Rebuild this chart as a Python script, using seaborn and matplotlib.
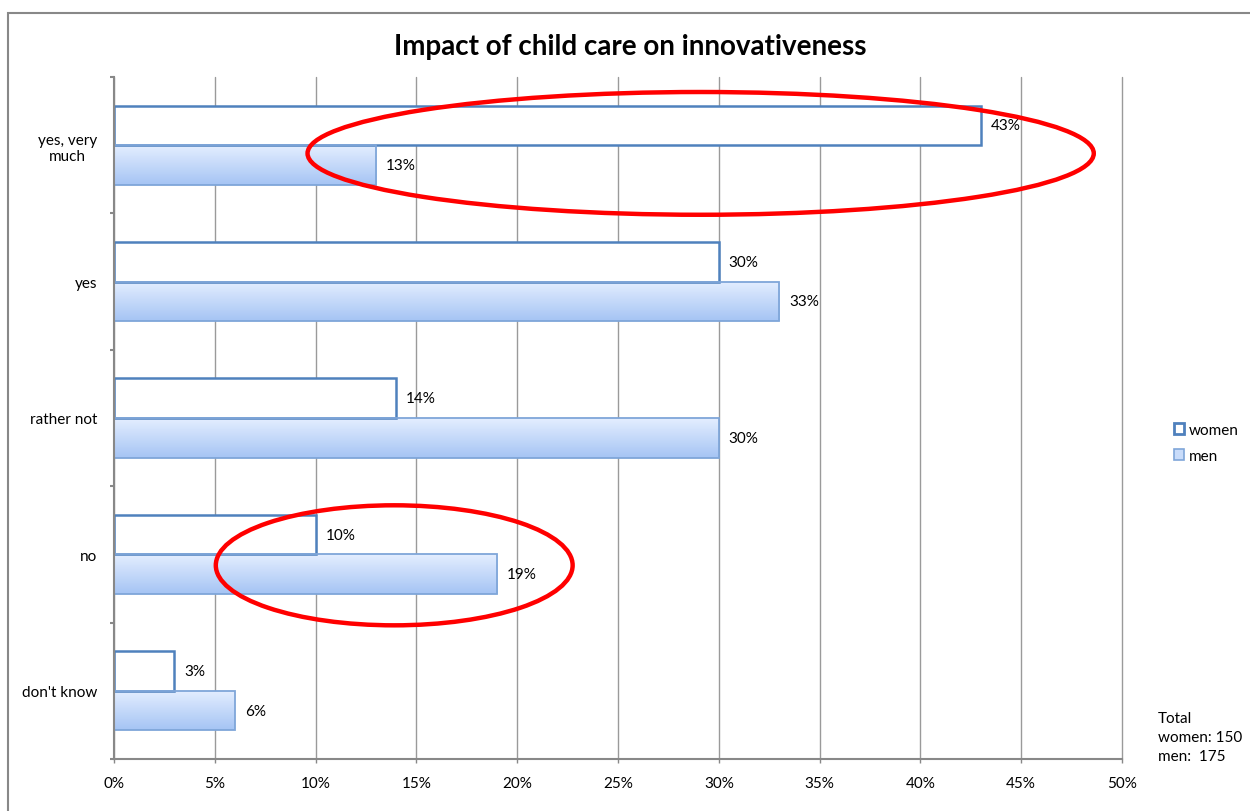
import numpy as np
import pandas as pd
import seaborn as sns
import matplotlib.pyplot as plt
from matplotlib.patches import Ellipse, Patch, Rectangle
from matplotlib.colors import LinearSegmentedColormap

# survey answers and shares (%)
answers = ['yes, very\nmuch', 'yes', 'rather not', 'no', "don't know"]
women = [43, 30, 14, 10, 3]
men = [13, 33, 30, 19, 6]
n_women = 150
n_men = 175

df = pd.DataFrame({'answer': answers * 2,
                   'share': women + men,
                   'sex': ['women'] * len(answers) + ['men'] * len(answers)})

sns.set_style('white')
plt.rcParams['font.family'] = ['Lato', 'DejaVu Sans']
plt.rcParams['text.color'] = 'black'
plt.rcParams['xtick.labelcolor'] = 'black'
plt.rcParams['ytick.labelcolor'] = 'black'

fig = plt.figure(figsize=(12.5, 8.12), dpi=100)
ax = fig.add_axes([114 / 1250, 1 - 760 / 812, 1008 / 1250, 682 / 812])

sns.barplot(data=df, x='share', y='answer', hue='sex', orient='h',
            order=answers, hue_order=['women', 'men'],
            palette={'women': 'white', 'men': '#c9dcfa'}, saturation=1,
            width=0.58, legend=False, ax=ax)

blue = '#4f81bd'
light_edge = '#7fa6d9'
women_bars, men_bars = ax.containers[0], ax.containers[1]
for b in women_bars:
    b.set_edgecolor(blue)
    b.set_linewidth(1.8)
    b.set_zorder(2)

# gradient fill for the men bars
grad_cmap = LinearSegmentedColormap.from_list('g', ['#e4eeff', '#a5c4f4'])
grad = np.linspace(0, 1, 256).reshape(-1, 1)
for b in men_bars:
    x0, y0 = b.get_xy()
    w, h = b.get_width(), b.get_height()
    b.set_facecolor('none')
    b.set_edgecolor(light_edge)
    b.set_linewidth(1.3)
    b.set_zorder(2)
    im = ax.imshow(grad, cmap=grad_cmap, aspect='auto', origin='upper',
                   extent=(x0, x0 + w, y0 + h, y0), zorder=1.5)
    im.set_clip_path(b)

for c in (women_bars, men_bars):
    ax.bar_label(c, fmt='%g%%', padding=7, fontsize=11, color='black')

ax.set_xlim(0, 50)
ax.set_ylim(len(answers) - 0.5, -0.5)
ax.set_xticks(range(0, 51, 5))
ax.set_xticklabels([f'{v}%' for v in range(0, 51, 5)], fontsize=11)
ax.set_yticks(range(len(answers)))
ax.set_yticklabels(answers, fontsize=11)
for lab in ax.get_yticklabels():
    lab.set_multialignment('center')
ax.set_yticks(np.arange(-0.5, len(answers), 1), minor=True)
ax.set_xlabel('')
ax.set_ylabel('')

ax.set_axisbelow(True)
ax.grid(axis='x', color='#9a9a9a', lw=1)
ax.grid(axis='y', visible=False)
for gl in ax.get_xgridlines():
    gl.set_clip_on(False)
for s in ['top', 'right']:
    ax.spines[s].set_visible(False)
for s in ['left', 'bottom']:
    ax.spines[s].set_color('#888888')
    ax.spines[s].set_linewidth(1.5)
ax.tick_params(axis='x', bottom=True, length=3, width=1, color='#888888', pad=9)
ax.tick_params(axis='y', which='major', left=False, length=0, pad=12)
ax.tick_params(axis='y', which='minor', left=True, length=3, width=1.5, color='#888888')

# red highlight ellipses
ax.add_patch(Ellipse((29.1, 0.06), 39.0, 0.9, fill=False, ec='red', lw=3.2, zorder=5))
ax.add_patch(Ellipse((13.9, 3.08), 17.7, 0.88, fill=False, ec='red', lw=3.2, zorder=5))

fig.text(0.504, 1 - 47 / 812, 'Impact of child care on innovativeness',
         ha='center', va='center', fontsize=20, fontweight='bold')

handles = [Patch(facecolor='white', edgecolor=blue, lw=2),
           Patch(facecolor='#c9dcfa', edgecolor=light_edge, lw=1.2)]
fig.legend(handles, ['women', 'men'], loc='center left',
           bbox_to_anchor=(1160 / 1250, 1 - 444 / 812), frameon=False,
           handlelength=0.7, handleheight=0.7, handletextpad=0.3,
           labelspacing=0.8, fontsize=11)

fig.text(1158 / 1250, 1 - 712 / 812, f'Total\nwomen: {n_women}\nmen:  {n_men}',
         va='top', ha='left', fontsize=11, linespacing=1.45)

# outer chart-area border
fig.patches.append(Rectangle((8 / 1250, -0.1), 1.2, 1.1 - 14 / 812,
                             transform=fig.transFigure, fill=False,
                             ec='#888888', lw=1.5))

fig.savefig('out.png', dpi=100)
